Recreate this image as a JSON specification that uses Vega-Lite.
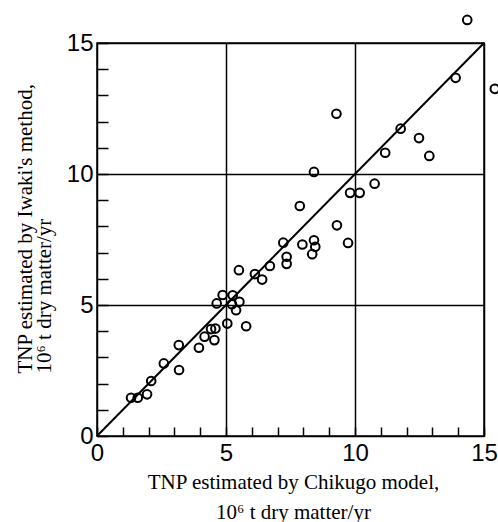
{
  "$schema": "https://vega.github.io/schema/vega-lite/v6.json",
  "width": 387,
  "height": 393,
  "autosize": {"type": "none"},
  "padding": {"left": 97, "top": 43, "right": 14, "bottom": 86},
  "background": "white",
  "config": {
    "view": {"stroke": "black", "strokeWidth": 1.5},
    "axis": {
      "domainColor": "black",
      "domainWidth": 1.5,
      "tickColor": "black",
      "tickWidth": 1.5,
      "gridColor": "black",
      "gridWidth": 1.5,
      "labelFont": "Liberation Sans",
      "labelFontSize": 24,
      "labelColor": "black",
      "labelFlush": false,
      "labelOverlap": false,
      "titleFont": "Liberation Serif",
      "titleFontWeight": "normal",
      "titleColor": "black"
    }
  },
  "datasets": {
    "points": [
      {"x": 1.32, "y": 1.46}, {"x": 1.58, "y": 1.46}, {"x": 1.94, "y": 1.59}, {"x": 2.10, "y": 2.10},
      {"x": 2.59, "y": 2.77}, {"x": 3.17, "y": 3.47}, {"x": 3.18, "y": 2.52}, {"x": 3.95, "y": 3.37},
      {"x": 4.17, "y": 3.79}, {"x": 4.42, "y": 4.08}, {"x": 4.59, "y": 4.10}, {"x": 4.55, "y": 3.66},
      {"x": 4.64, "y": 5.06}, {"x": 4.87, "y": 5.38}, {"x": 5.05, "y": 4.29}, {"x": 5.23, "y": 5.03},
      {"x": 5.26, "y": 5.37}, {"x": 5.39, "y": 4.80}, {"x": 5.52, "y": 5.12}, {"x": 5.78, "y": 4.19},
      {"x": 5.50, "y": 6.33}, {"x": 6.12, "y": 6.18}, {"x": 6.40, "y": 5.97}, {"x": 6.70, "y": 6.49},
      {"x": 7.22, "y": 7.38}, {"x": 7.35, "y": 6.84}, {"x": 7.35, "y": 6.57}, {"x": 7.86, "y": 8.78},
      {"x": 7.96, "y": 7.31}, {"x": 8.41, "y": 7.47}, {"x": 8.46, "y": 7.22}, {"x": 8.34, "y": 6.94},
      {"x": 8.41, "y": 10.08}, {"x": 9.30, "y": 8.04}, {"x": 9.73, "y": 7.37}, {"x": 9.28, "y": 12.30},
      {"x": 9.81, "y": 9.28}, {"x": 10.18, "y": 9.28}, {"x": 10.76, "y": 9.63}, {"x": 11.17, "y": 10.81},
      {"x": 11.77, "y": 11.73}, {"x": 12.48, "y": 11.37}, {"x": 12.88, "y": 10.69}, {"x": 13.90, "y": 13.67},
      {"x": 15.42, "y": 13.25}, {"x": 14.35, "y": 15.88}
    ],
    "diag": [{"x": 0, "y": 0}, {"x": 15, "y": 15}]
  },
  "encoding": {
    "x": {
      "field": "x", "type": "quantitative",
      "scale": {"domain": [0, 15], "nice": false, "zero": false},
      "axis": {
        "values": [0,1,2,3,4,5,6,7,8,9,10,11,12,13,14,15],
        "labelExpr": "datum.value % 5 === 0 ? datum.label : ''",
        "grid": true,
        "gridOpacity": {"condition": {"test": "datum.value % 5 === 0", "value": 1}, "value": 0},
        "domain": false,
        "ticks": true,
        "offset": -9,
        "tickSize": 9,
        "labelPadding": 5,
        "title": ["TNP estimated by Chikugo model,", "10⁶ t dry matter/yr"],
        "titleFontSize": 21,
        "titleLineHeight": 30,
        "titleAlign": "center",
        "titleBaseline": "alphabetic",
        "titleX": 196,
        "titleY": 61
      }
    },
    "y": {
      "field": "y", "type": "quantitative",
      "scale": {"domain": [0, 15], "nice": false, "zero": false},
      "axis": {
        "values": [0,1,2,3,4,5,6,7,8,9,10,11,12,13,14,15],
        "labelExpr": "datum.value % 5 === 0 ? datum.label : ''",
        "grid": true,
        "gridOpacity": {"condition": {"test": "datum.value % 5 === 0", "value": 1}, "value": 0},
        "domain": false,
        "ticks": true,
        "offset": -11,
        "tickSize": 11,
        "labelPadding": 4,
        "title": ["TNP estimated by Iwaki's method,", "10⁶ t dry matter/yr"],
        "titleFontSize": 21,
        "titleLineHeight": 19,
        "titleAngle": 270,
        "titleAlign": "left",
        "titleBaseline": "alphabetic",
        "titleX": -77,
        "titleY": 330
      }
    }
  },
  "layer": [
    {
      "data": {"name": "diag"},
      "mark": {"type": "line", "color": "black", "strokeWidth": 2}
    },
    {
      "data": {"name": "points"},
      "mark": {"type": "point", "shape": "circle", "filled": false, "color": "black", "opacity": 1, "size": 75, "strokeWidth": 2, "clip": false}
    }
  ]
}
